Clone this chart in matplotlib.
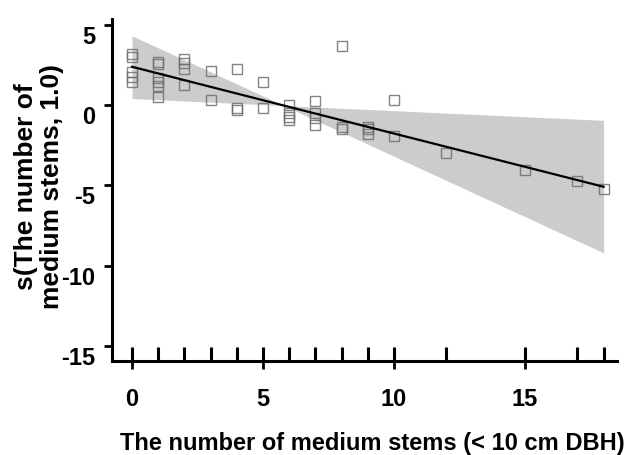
import matplotlib
matplotlib.use("Agg")
import matplotlib.pyplot as plt
import matplotlib.transforms as mtransforms

plt.rcParams['font.family'] = ['Liberation Sans', 'DejaVu Sans']
plt.rcParams['font.weight'] = 'bold'

# partial residuals: number of medium stems vs. smooth term
stems = [0, 0, 0, 0, 0,
         1, 1, 1, 1, 1, 1,
         2, 2, 2, 2,
         3, 3,
         4, 4, 4,
         5, 5,
         6, 6, 6, 6,
         7, 7, 7, 7,
         8, 8, 8,
         9, 9, 9,
         10, 10,
         12, 15, 17, 18]
resid = [3.19, 3.0, 2.06, 1.75, 1.44,
         2.7, 2.6, 1.69, 1.46, 1.17, 0.52,
         2.88, 2.63, 2.29, 1.27,
         2.14, 0.31,
         2.25, -0.15, -0.29,
         1.46, -0.15,
         0.0, -0.46, -0.71, -0.94,
         0.27, -0.5, -0.77, -1.2,
         3.67, -1.33, -1.5,
         -1.33, -1.5, -1.81,
         0.33, -1.92,
         -2.96, -4.04, -4.69, -5.19]

# fitted smooth and its confidence band
fit_x = [0, 5.8, 18]
fit_y = [2.4, -0.02, -5.08]
band_hi = [4.33, -0.02, -0.94]
band_lo = [0.42, -0.02, -9.2]

xticks = [0, 5, 10, 15]
yticks = [5, 0, -5, -10, -15]

fig = plt.figure(figsize=(6.3, 4.56), dpi=100)
ax = fig.add_axes([0.1773, 0.2061, 0.8016, 0.75])

ax.fill_between(fit_x, band_lo, band_hi, color='#cccccc', linewidth=0, zorder=1)
ax.plot(fit_x, fit_y, color='black', linewidth=1.6, zorder=3)
ax.plot(stems, resid, linestyle='none', marker='s', markersize=7.4,
        markerfacecolor='none', markeredgecolor='#6e6e6e',
        markeredgewidth=1.0, alpha=0.85, zorder=2)

# rug along the bottom
trans = mtransforms.blended_transform_factory(ax.transData, ax.transAxes)
ax.vlines(sorted(set(stems)), 0, 14 / 342, transform=trans,
          color='black', linewidth=2.2, clip_on=False, zorder=4)

ax.set_xlim(-0.775, 18.5)
ax.set_ylim(-15.94, 5.375)
ax.set_xticks(xticks)
ax.set_yticks(yticks)
ax.set_yticklabels([str(t) for t in yticks])

for side in ['top', 'right']:
    ax.spines[side].set_visible(False)
for side in ['left', 'bottom']:
    ax.spines[side].set_linewidth(2.2)

ax.tick_params(axis='both', direction='out', length=6, width=2,
               labelsize=17)
ax.tick_params(axis='y', pad=6)
ax.tick_params(axis='x', pad=13)

# y labels sit a little below their ticks
offset = mtransforms.ScaledTranslation(0, -9 / 100, fig.dpi_scale_trans)
for lab in ax.get_yticklabels():
    lab.set_transform(lab.get_transform() + offset)

ax.set_xlabel('The number of medium stems (< 10 cm DBH)', fontsize=17,
              fontweight='bold')
ax.xaxis.set_label_coords(0.5168, -0.204)
ax.set_ylabel('s(The number of\nmedium stems, 1.0)', fontsize=19,
              fontweight='bold', linespacing=1.12)
ax.yaxis.set_label_coords(-0.094, 0.512)

fig.savefig('out.png', dpi=100)
